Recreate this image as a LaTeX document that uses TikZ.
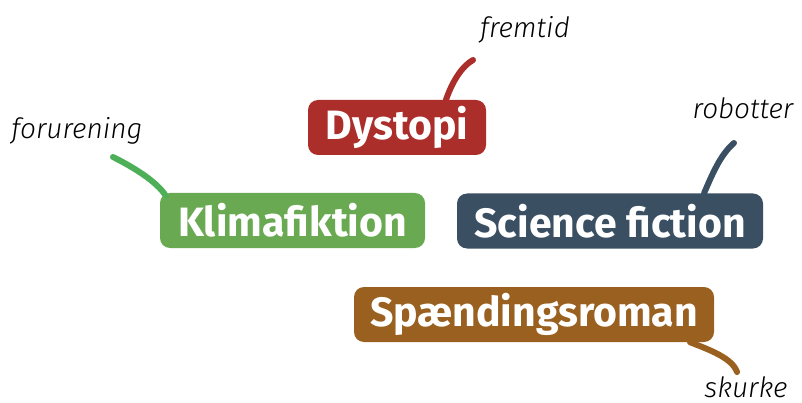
\documentclass[tikz,border=0pt]{standalone}
\usepackage{fontspec}
\setmainfont{Fira Sans}
\newfontfamily\handfont{Fira Sans Light Italic}
\definecolor{cred}{HTML}{AB2E2A}
\definecolor{cgreen}{HTML}{69A951}
\definecolor{cgreenline}{HTML}{4DB058}
\definecolor{cslate}{HTML}{3A5062}
\definecolor{cbrown}{HTML}{99601F}
\begin{document}
\begin{tikzpicture}[x=1pt,y=-1pt,
  topic/.style={rounded corners=10pt, inner sep=0pt, text=white,
    font=\fontsize{41}{43}\selectfont\bfseries, minimum height=55pt},
  hand/.style={font=\fontsize{28}{30}\selectfont\handfont, text=black, inner sep=0pt, anchor=base},
  link/.style={line width=6pt, line cap=round}]
\useasboundingbox (0,0) rectangle (802,403);
\node[topic, fill=cred, minimum width=178pt] (dys) at (397,127.5) {Dystopi};
\node[topic, fill=cgreen, minimum width=265pt] (kli) at (292.5,220.5) {Klimafiktion};
\node[topic, fill=cslate, minimum width=306pt] (sci) at (610,221) {Science fiction};
\node[topic, fill=cbrown, minimum width=360pt] (spa) at (534,314.5) {Spændingsroman};
\node[hand] (lfrem) at (525,38) {fremtid};
\node[hand] (lforu) at (77,139) {forurening};
\node[hand] (lrobo) at (743,119) {robotter};
\node[hand] (lskur) at (746,397) {skurke};
\coordinate (efrem) at (473,60);
\coordinate (eforu) at (113,157);
\coordinate (erobo) at (734,143);
\coordinate (eskur) at (737,372);
\draw[link, cred] ([xshift=49pt]dys.north) .. controls (452,82) and (462,66) .. (efrem);
\draw[link, cgreenline] ([xshift=6pt,yshift=-3pt]kli.north west) .. controls (157,182) and (135,168) .. (eforu);
\draw[link, cslate] ([xshift=94pt]sci.north) .. controls (712,175) and (720,155) .. (erobo);
\draw[link, cbrown] ([xshift=156pt]spa.south) .. controls (710,350) and (732,358) .. (eskur);
\end{tikzpicture}
\end{document}
